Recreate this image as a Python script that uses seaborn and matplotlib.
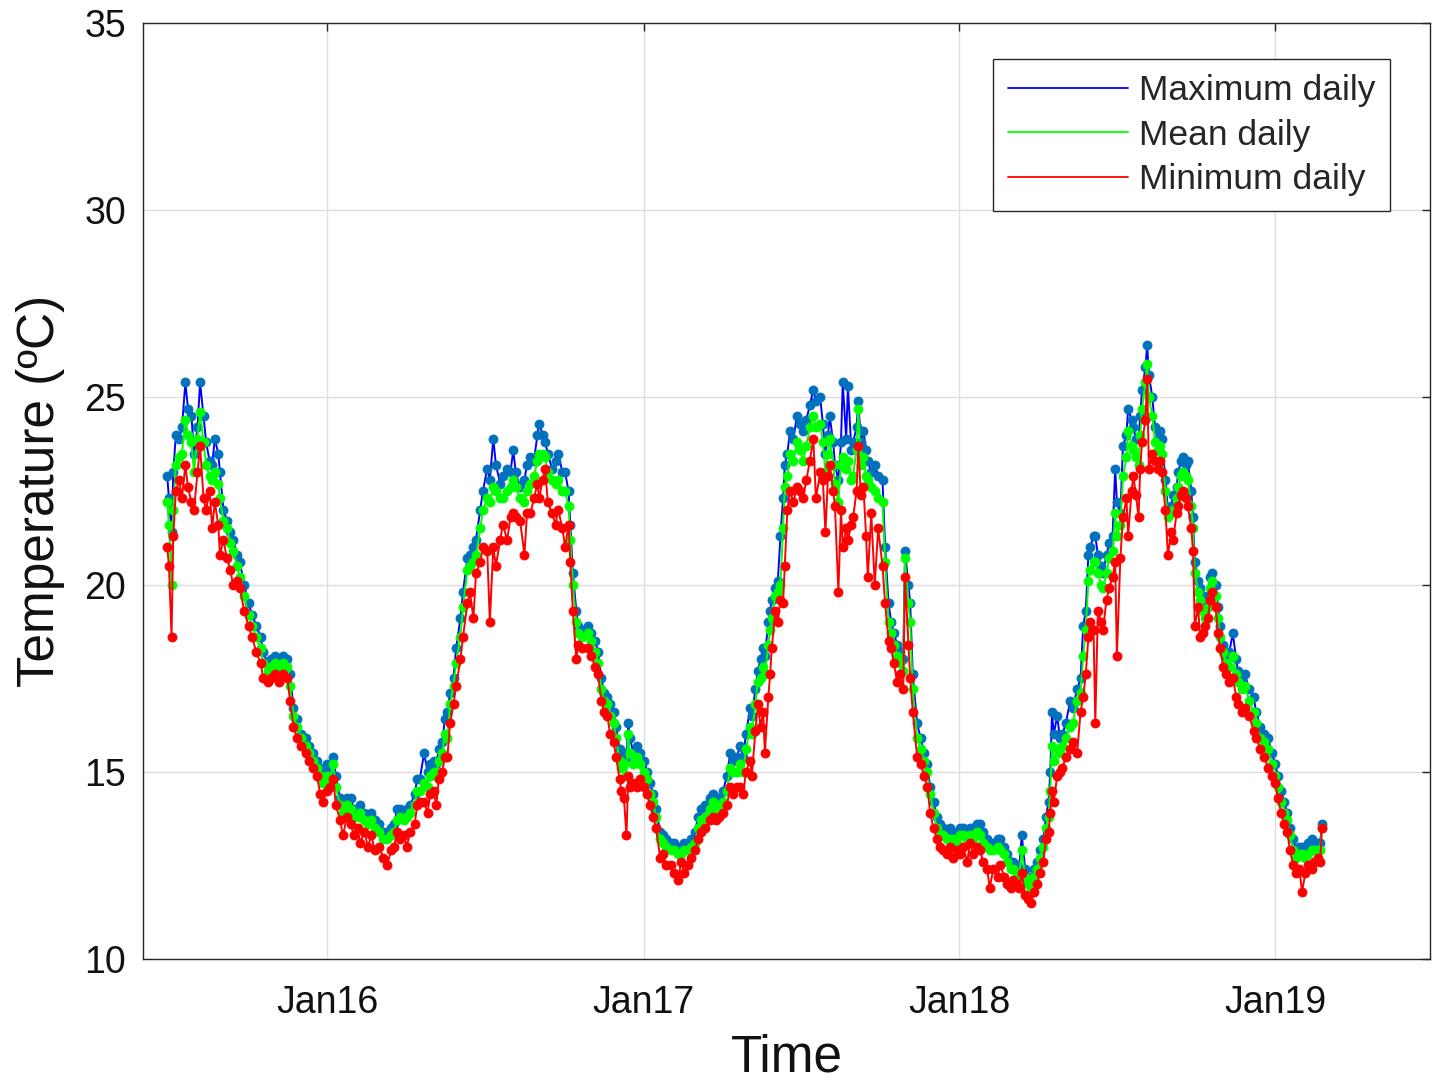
import numpy as np
import pandas as pd
import matplotlib
matplotlib.use("Agg")
import matplotlib.pyplot as plt
import matplotlib.dates as mdates
from matplotlib.lines import Line2D
import seaborn as sns

# ---------------- data ----------------
start_date = "2015-06-30"
# days since start_date
day = [
    0, 2, 5, 7, 10, 14, 17, 21, 24, 28, 31, 35, 38, 42, 45, 49, 52, 55, 59, 61, 65, 69, 73, 76, 81, 84, 89, 94, 98, 103,
    108, 111, 116, 120, 125, 129, 134, 139, 142, 146, 150, 155, 160, 164, 169, 173, 177, 180, 185,
    188, 192, 195, 200, 203, 208, 212, 216, 220, 223, 228, 232, 236, 240, 245, 250, 254, 259, 262, 266,
    269, 274, 277, 281, 286, 289, 292, 297, 301, 304, 308, 311, 314, 318, 321, 324, 327, 331, 334, 339,
    342, 347, 350, 354, 357, 362, 365, 370,
    373, 377, 380, 385, 388, 393, 397, 400, 403, 408, 413, 416, 420, 424, 428, 430, 434, 437, 440, 445,
    449, 452, 457, 460, 464, 466, 469, 473, 475, 480, 486, 490, 495, 498, 502, 505, 509, 512, 516, 519,
    523, 525, 528, 531, 533, 535, 539, 543, 547, 551, 555,
    558, 562, 565, 570, 573, 577, 582, 586, 591, 594, 598, 602, 606, 610, 614, 617, 622, 627, 631, 635,
    638, 643, 647, 651, 654, 659, 662, 666, 669, 674, 676, 680, 683, 686, 689, 691, 695, 697, 699, 703,
    706, 709, 712, 714, 717, 720, 724, 728, 732,
    735, 739, 743, 747, 750, 755, 758, 761, 764, 766, 770, 772, 776, 779, 781, 785, 787, 791, 793, 797,
    799, 802, 805, 808, 810, 814, 818, 822, 827, 830, 834, 837, 840, 844, 847, 851, 853, 857, 859, 862,
    867, 871, 875, 879, 882, 886, 890, 894, 897, 902,
    905, 909, 913, 917, 920, 925, 928, 932, 936, 940, 943, 948, 951, 955, 960, 963, 968, 971, 975, 978,
    982, 985, 988, 992, 995, 999, 1002, 1006, 1009, 1013, 1016, 1019, 1021, 1023, 1025, 1029, 1032, 1035,
    1039, 1044, 1047, 1052, 1056, 1059, 1062, 1065, 1067, 1071, 1073, 1076,
    1080, 1082, 1086, 1089, 1093, 1096, 1098, 1102, 1105, 1109, 1111, 1115, 1117, 1120, 1123, 1125, 1127,
    1131, 1133, 1135, 1139, 1142, 1145, 1148, 1150, 1154, 1157, 1161, 1163, 1167, 1169, 1172, 1175, 1178,
    1180, 1184, 1186, 1188, 1192, 1194, 1198, 1200, 1203, 1206, 1208, 1212, 1215,
    1217, 1221, 1224, 1228, 1232, 1236, 1238, 1243, 1246, 1251, 1256, 1259, 1264, 1268, 1273, 1277, 1281,
    1284, 1288, 1291, 1295, 1298, 1302, 1305, 1309, 1312, 1316, 1319, 1323, 1326, 1330, 1333, 1335,
]

t_max = [
    22.9, 22.3, 21.4, 23.0, 24.0, 23.9, 24.2, 25.4, 24.7, 24.5, 23.5, 24.2, 25.4, 24.5, 23.8, 23.3, 23.2, 23.9, 23.5, 23.0,
    22.0, 21.7, 21.4, 21.2, 20.8, 20.6, 20.0, 19.5, 19.2, 18.9, 18.6, 18.2, 17.9, 18.0, 18.1, 18.0, 18.1, 18.0, 17.6, 16.7,
    16.4, 16.0, 15.9, 15.7, 15.5, 15.3, 15.1, 15.0, 15.2,
    15.0, 15.4, 14.9, 14.3, 14.2, 14.3, 14.3, 14.0, 14.0, 14.1, 13.9, 13.8, 13.9, 13.7, 13.6, 13.4, 13.4, 13.5, 13.6, 14.0,
    14.0, 13.9, 14.0, 14.1, 14.4, 14.8, 14.8, 15.5, 15.0, 15.2, 15.3, 15.2, 15.6, 15.8, 16.4, 16.6, 17.1, 17.5, 18.3, 19.1,
    19.8, 20.7, 20.8, 21.0, 21.2, 22.0, 22.5, 23.1,
    22.8, 23.9, 23.2, 22.7, 22.9, 23.1, 23.0, 23.6, 23.0, 22.6, 22.8, 23.2, 23.4, 23.3, 24.0, 24.3, 24.0, 23.8, 23.5, 23.1,
    23.3, 23.5, 23.0, 23.0, 22.5, 21.6, 20.3, 19.3, 18.9, 18.8, 18.9, 18.7, 18.5, 18.2, 17.5, 17.1, 17.0, 16.8, 16.6, 16.2,
    15.6, 15.4, 15.5, 15.3, 16.3, 15.9, 15.5, 15.7, 15.5, 15.3, 15.0,
    14.7, 14.4, 14.0, 13.4, 13.3, 13.2, 13.1, 13.1, 13.0, 13.0, 13.1, 13.1, 13.2, 13.4, 13.8, 14.0, 14.1, 14.3, 14.4, 14.2,
    14.3, 14.5, 14.9, 15.5, 15.3, 15.4, 15.7, 15.4, 16.0, 16.7, 16.5, 17.2, 17.7, 18.0, 18.3, 18.1, 19.0, 19.3, 19.6, 19.9,
    20.1, 21.3, 22.3, 23.2, 23.5, 24.1, 23.9, 24.5, 24.3,
    24.1, 24.4, 24.8, 25.2, 24.9, 25.0, 24.3, 23.5, 24.0, 24.5, 23.8, 23.2, 22.8, 23.8, 25.4, 23.9, 25.3, 23.6, 23.8, 24.2,
    24.9, 23.8, 24.1, 23.6, 23.3, 23.0, 23.2, 22.9, 22.8, 21.0, 19.5, 19.0, 18.7, 18.4, 18.2, 18.0, 20.9, 20.0, 19.5, 17.6,
    16.3, 15.9, 15.5, 15.2, 14.6, 14.2, 13.8, 13.6, 13.5, 13.4,
    13.5, 13.4, 13.3, 13.5, 13.5, 13.4, 13.5, 13.5, 13.6, 13.6, 13.4, 13.2, 13.1, 13.1, 13.2, 13.2, 13.0, 12.8, 12.6, 12.6,
    12.5, 12.4, 13.3, 12.4, 12.2, 12.1, 12.4, 12.6, 12.9, 13.2, 13.8, 14.2, 15.0, 16.6, 16.0, 16.5, 15.9, 16.0, 16.3, 16.9,
    16.7, 17.2, 17.5, 18.9, 19.3, 20.8, 21.0, 21.3, 21.3, 20.8,
    20.5, 20.3, 20.8, 21.1, 21.3, 23.1, 22.2, 21.9, 23.7, 24.0, 24.7, 24.4, 24.2, 23.9, 23.9, 24.5, 25.2, 25.8, 26.4, 25.6,
    25.0, 24.2, 23.9, 24.1, 23.9, 22.8, 22.0, 22.1, 22.4, 22.6, 23.0, 23.3, 23.4, 23.2, 23.3, 22.5, 21.8, 20.6, 20.1, 19.9,
    19.7, 19.3, 19.7, 20.2, 20.3, 20.0, 19.4,
    18.9, 18.4, 18.1, 18.2, 18.7, 18.0, 17.7, 17.5, 17.6, 17.2, 17.0, 16.6, 16.2, 16.0, 15.9, 15.5, 15.2, 14.9, 14.5, 14.2,
    13.9, 13.5, 13.2, 12.9, 13.0, 13.0, 13.0, 13.1, 13.2, 13.1, 13.1, 13.1, 13.6,
]

t_mean = [
    22.2, 21.6, 20.0, 22.0, 23.2, 23.4, 23.5, 24.4, 24.0, 23.8, 23.0, 23.9, 24.6, 23.8, 23.2, 22.9, 22.8, 23.0, 22.7, 22.3,
    21.7, 21.5, 21.1, 20.9, 20.5, 20.2, 19.7, 19.2, 18.9, 18.6, 18.3, 17.9, 17.7, 17.8, 17.9, 17.8, 17.9, 17.8, 17.3, 16.5,
    16.2, 15.9, 15.7, 15.5, 15.3, 15.1, 14.9, 14.7, 14.9,
    14.8, 15.2, 14.6, 14.1, 13.9, 14.1, 14.0, 13.8, 13.8, 13.9, 13.7, 13.6, 13.7, 13.5, 13.4, 13.2, 13.2, 13.3, 13.4, 13.7,
    13.8, 13.7, 13.8, 13.9, 14.1, 14.5, 14.5, 14.7, 14.6, 14.9, 15.0, 14.9, 15.3, 15.5, 16.0, 15.9, 16.8, 17.3, 17.9, 18.6,
    19.4, 20.4, 20.5, 20.6, 20.8, 21.5, 22.0, 22.3,
    22.2, 22.6, 22.5, 22.3, 22.3, 22.5, 22.6, 22.8, 22.6, 22.3, 22.2, 22.5, 22.7, 22.9, 23.3, 23.5, 23.5, 23.4, 23.0, 22.8,
    22.7, 22.8, 22.5, 22.5, 22.1, 21.2, 20.0, 19.0, 18.7, 18.6, 18.7, 18.5, 18.2, 17.9, 17.2, 16.9, 16.8, 16.5, 16.3, 15.9,
    15.3, 15.1, 15.2, 14.9, 16.0, 15.5, 15.2, 15.4, 15.2, 15.0, 14.8,
    14.4, 14.2, 13.8, 13.2, 13.1, 13.0, 12.9, 12.9, 12.8, 12.8, 12.9, 12.9, 13.0, 13.1, 13.5, 13.7, 13.8, 14.0, 14.2, 14.0,
    14.1, 14.2, 14.5, 15.1, 15.0, 15.0, 15.2, 15.0, 15.6, 16.2, 16.0, 16.8, 17.4, 17.5, 17.8, 17.6, 18.4, 18.8, 19.1, 19.7,
    19.8, 20.0, 21.5, 22.6, 22.9, 23.5, 23.3, 23.8, 23.6,
    23.3, 23.7, 24.2, 24.5, 24.2, 24.3, 23.8, 23.0, 23.5, 23.9, 23.2, 22.7, 22.2, 23.2, 23.4, 23.1, 23.3, 22.8, 22.9, 23.6,
    24.7, 23.2, 23.4, 22.9, 22.8, 22.6, 22.5, 22.3, 22.2, 20.6, 19.0, 18.7, 18.4, 18.1, 17.9, 17.7, 20.7, 19.5, 19.0, 17.2,
    15.9, 15.6, 15.3, 15.0, 14.4, 13.9, 13.5, 13.3, 13.3, 13.2,
    13.2, 13.2, 13.1, 13.3, 13.3, 13.2, 13.3, 13.2, 13.4, 13.3, 13.1, 13.0, 12.9, 12.9, 13.0, 12.9, 12.8, 12.6, 12.4, 12.4,
    12.3, 12.2, 12.9, 12.2, 12.0, 11.9, 12.2, 12.4, 12.7, 13.0, 13.5, 13.8, 14.5, 15.7, 15.3, 15.6, 15.5, 15.7, 15.9, 16.2,
    16.3, 16.9, 17.1, 18.1, 18.8, 20.1, 20.4, 20.6, 20.6, 20.3,
    20.0, 19.9, 20.3, 20.7, 20.9, 21.9, 21.3, 21.6, 22.9, 23.4, 24.1, 23.7, 23.6, 23.4, 23.2, 24.0, 24.7, 25.4, 25.9, 25.0,
    24.5, 23.8, 23.6, 23.7, 23.5, 22.5, 21.8, 21.9, 22.0, 22.3, 22.6, 22.9, 23.0, 22.9, 22.8, 22.1, 21.5, 20.3, 19.8, 19.6,
    19.3, 19.1, 19.4, 19.9, 20.1, 19.7, 19.1,
    18.6, 18.2, 17.9, 17.8, 18.1, 17.6, 17.4, 17.2, 17.3, 16.9, 16.6, 16.3, 15.9, 15.8, 15.6, 15.2, 14.9, 14.6, 14.2, 13.9,
    13.7, 13.3, 12.9, 12.7, 12.8, 12.8, 12.7, 12.8, 12.9, 12.9, 12.9, 12.9, 13.5,
]

t_min = [
    21.0, 20.5, 18.6, 21.3, 22.5, 22.8, 22.3, 23.2, 22.6, 22.2, 22.0, 23.0, 23.7, 22.3, 22.0, 22.5, 21.5, 22.2, 21.6, 20.8,
    21.2, 20.7, 20.4, 20.0, 20.1, 19.9, 19.3, 18.9, 18.6, 18.2, 17.9, 17.5, 17.4, 17.5, 17.6, 17.4, 17.6, 17.5, 16.9, 16.2,
    15.9, 15.7, 15.5, 15.3, 15.1, 14.9, 14.4, 14.2, 14.5,
    14.6, 14.8, 14.1, 13.7, 13.3, 13.8, 13.6, 13.3, 13.5, 13.1, 13.4, 13.0, 13.3, 12.9, 13.0, 12.7, 12.5, 12.9, 13.0, 13.4,
    13.2, 13.3, 13.0, 13.4, 13.6, 14.1, 14.2, 14.2, 13.9, 14.4, 14.5, 14.1, 14.8, 15.0, 15.4, 15.4, 16.3, 16.8, 17.3, 18.0,
    18.6, 19.5, 19.8, 19.1, 20.3, 20.6, 21.0, 20.9,
    19.0, 21.0, 20.5, 21.2, 21.6, 21.2, 21.8, 21.9, 21.8, 21.7, 20.8, 21.9, 21.9, 22.3, 22.7, 22.3, 22.8, 23.1, 22.2, 21.9,
    21.6, 22.0, 21.5, 21.0, 21.6, 20.6, 19.3, 18.0, 18.4, 18.3, 18.3, 18.1, 17.8, 17.6, 16.9, 16.6, 16.5, 16.0, 15.8, 15.4,
    14.8, 14.5, 14.3, 13.3, 14.9, 14.6, 14.7, 14.6, 14.8, 14.6, 14.4,
    14.1, 13.8, 13.5, 12.7, 12.8, 12.5, 12.5, 12.3, 12.1, 12.6, 12.3, 12.5, 12.7, 12.9, 13.2, 13.4, 13.5, 13.7, 13.8, 13.7,
    13.8, 13.9, 14.1, 14.6, 14.4, 14.6, 14.6, 14.4, 15.0, 15.3, 14.9, 16.1, 16.8, 16.2, 16.6, 15.5, 17.0, 17.6, 18.3, 19.3,
    19.0, 19.6, 19.5, 20.5, 22.0, 22.5, 22.2, 22.6, 22.5,
    22.3, 22.8, 23.3, 23.9, 22.3, 23.0, 22.8, 21.4, 22.9, 23.2, 22.5, 22.1, 19.8, 22.0, 21.0, 21.5, 21.2, 21.6, 21.8, 22.5,
    23.7, 22.4, 22.6, 21.3, 20.2, 21.9, 20.0, 21.5, 20.5, 19.5, 18.5, 18.3, 17.9, 17.4, 17.6, 17.2, 20.2, 18.4, 17.5, 16.6,
    15.4, 15.2, 14.9, 14.6, 13.9, 13.5, 13.2, 13.0, 12.9, 12.8,
    13.0, 12.7, 12.9, 12.8, 13.0, 12.6, 13.1, 12.8, 13.0, 12.9, 12.6, 12.4, 11.9, 12.4, 12.2, 12.5, 12.2, 12.0, 11.9, 12.1,
    12.0, 11.9, 12.3, 11.7, 11.6, 11.5, 11.8, 12.0, 12.3, 12.6, 13.2, 13.4, 13.9, 14.5, 14.2, 14.9, 15.0, 15.1, 15.4, 15.6,
    15.8, 15.5, 16.6, 17.0, 17.6, 18.6, 19.0, 18.8, 16.3, 19.3,
    19.0, 18.8, 19.6, 19.9, 20.2, 20.6, 18.1, 20.7, 21.8, 22.3, 21.3, 22.5, 22.9, 22.4, 21.8, 23.1, 23.8, 24.4, 25.5, 23.1,
    23.5, 23.3, 23.1, 23.3, 23.0, 22.0, 20.8, 21.4, 21.2, 21.9, 22.1, 22.4, 22.5, 22.3, 22.1, 21.5, 20.9, 18.9, 19.4, 18.6,
    18.7, 18.9, 19.1, 19.6, 19.8, 19.4, 18.7,
    18.3, 17.8, 17.6, 17.4, 17.5, 17.0, 16.8, 16.6, 16.7, 16.5, 16.1, 15.9, 15.6, 15.4, 15.1, 14.9, 14.7, 14.3, 13.9, 13.6,
    13.4, 12.9, 12.5, 12.3, 12.4, 11.8, 12.3, 12.5, 12.4, 12.6, 12.7, 12.6, 13.5,
]

series_labels = ["Maximum daily", "Mean daily", "Minimum daily"]
year_ticks = ["2016-01-01", "2017-01-01", "2018-01-01", "2019-01-01"]
y_ticks = [10, 15, 20, 25, 30, 35]

assert len(day) == len(t_max) == len(t_mean) == len(t_min), (len(day), len(t_max), len(t_mean), len(t_min))

dates = pd.Timestamp(start_date) + pd.to_timedelta(day, unit="D")
df = pd.DataFrame({"date": dates, "tmax": t_max, "tmean": t_mean, "tmin": t_min})

# ---------------- style ----------------
sns.set_style("white")
plt.rcParams["font.family"] = ["Liberation Sans", "DejaVu Sans"]

W, H = 1434, 1083
fig = plt.figure(figsize=(W / 100, H / 100), dpi=100)
ax = fig.add_axes([143 / W, 1 - 959 / H, (1430 - 143) / W, (959 - 23) / H])

line_colors = ["#0000FF", "#00FF00", "#FF0000"]
marker_colors = ["#0072BD", "#00FF00", "#FF0000"]
cols = ["tmax", "tmean", "tmin"]

for col, lc, mc in zip(cols, line_colors, marker_colors):
    sns.lineplot(data=df, x="date", y=col, ax=ax, color=lc, linewidth=1.4,
                 marker="o", markersize=6.5, markerfacecolor=mc, markeredgecolor=mc,
                 markeredgewidth=0.6, errorbar=None, estimator=None, legend=False)

ax.set_xlim(pd.Timestamp("2015-06-02"), pd.Timestamp("2019-06-29"))
ax.set_ylim(10, 35)
ax.set_yticks(y_ticks)
ax.set_xticks(pd.to_datetime(year_ticks))
ax.xaxis.set_major_formatter(mdates.DateFormatter("%b%y"))

ax.grid(True, color="#dedede", linewidth=1.0)
ax.set_axisbelow(True)
for s in ax.spines.values():
    s.set_color("#262626")
    s.set_linewidth(1.0)

ax.tick_params(axis="both", which="major", direction="in", length=6, width=1,
               colors="#262626", labelcolor="#111111", labelsize=27,
               top=True, right=True)
ax.tick_params(axis="x", pad=19)
ax.tick_params(axis="y", pad=12)

ax.set_xlabel("Time", fontsize=37, labelpad=9, color="#111111")
ax.set_ylabel("Temperature (ºC)", fontsize=37, labelpad=14, color="#111111")

handles = [Line2D([0], [0], color=c, linewidth=1.3) for c in line_colors]
leg = ax.legend(handles, series_labels, loc="upper right", bbox_to_anchor=(0.969, 0.9615),
                fontsize=25.5, frameon=True, fancybox=False, framealpha=1,
                edgecolor="#262626", handlelength=3.4, handletextpad=0.3,
                borderpad=0.42, labelspacing=0.33, borderaxespad=0.0)
leg.get_frame().set_linewidth(1.0)

fig.savefig("out.png", dpi=100)
